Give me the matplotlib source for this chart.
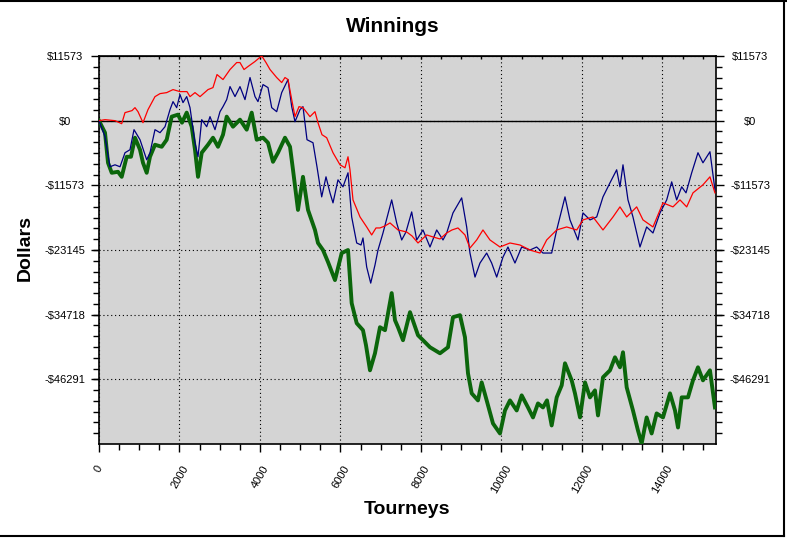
import matplotlib
matplotlib.use("Agg")
import matplotlib.pyplot as plt
from matplotlib.lines import Line2D
from matplotlib.ticker import MultipleLocator, FixedLocator, NullFormatter

# values (tourneys, dollars)
red_t = [0, 149, 398, 564, 646, 820, 894, 969, 1093, 1217,
         1391, 1516, 1682, 1839, 2012, 2186, 2261, 2385, 2510, 2708,
         2832, 2932, 3081, 3255, 3421, 3503, 3603, 3702, 3876, 4042,
         4149, 4249, 4415, 4539, 4621, 4696, 4788, 4870, 4969, 5068,
         5242, 5366, 5441, 5540, 5657, 5814, 5988, 6112, 6187, 6236,
         6311, 6485, 6651, 6775, 6882, 6981, 7106, 7230, 7429, 7645,
         7777, 7926, 8142, 8298, 8472, 8639, 8770, 8919, 9093, 9217,
         9384, 9540, 9714, 9963, 10211, 10460, 10708, 10957, 11123, 11372,
         11620, 11869, 12025, 12273, 12522, 12771, 12944, 13111, 13359, 13516,
         13764, 14013, 14261, 14435, 14602, 14758, 15006, 15180, 15304]
red_d = [0, 180, 0, -540, 1440, 1800, 2330, 1610, -360, 1970,
         4300, 4840, 5020, 5560, 5200, 5200, 4300, 5020, 4300, 5560,
         5920, 8250, 7360, 9150, 10400, 10400, 9150, 9690, 10590, 11600,
         10400, 9150, 7720, 6820, 7720, 7360, 3770, 720, 2510, 2330,
         720, 1610, -360, -2510, -3050, -5740, -7900, -8430, -6460, -8790,
         -14180, -17230, -19020, -20450, -19200, -19200, -18840, -18300, -19560, -19920,
         -20630, -21890, -20450, -20810, -21170, -20100, -19560, -19200, -20450, -22790,
         -21350, -19560, -21350, -22610, -21890, -22250, -23150, -23690, -21350, -19560,
         -19020, -19560, -17760, -17230, -19560, -17230, -15430, -17230, -15430, -17760,
         -19020, -14710, -15430, -14180, -15430, -12920, -11480, -10050, -12920]

blue_t = [0, 149, 273, 398, 522, 646, 770, 870, 1019, 1185,
          1267, 1391, 1516, 1640, 1764, 1839, 1930, 2012, 2087, 2179,
          2261, 2385, 2460, 2552, 2676, 2758, 2882, 3006, 3081, 3173,
          3255, 3379, 3503, 3627, 3752, 3876, 3950, 4075, 4199, 4291,
          4415, 4539, 4696, 4788, 4870, 4994, 5068, 5168, 5317, 5416,
          5533, 5640, 5739, 5814, 5938, 6062, 6187, 6278, 6403, 6510,
          6559, 6651, 6751, 6857, 6932, 7056, 7272, 7396, 7521, 7627,
          7769, 7893, 8050, 8224, 8390, 8547, 8639, 8795, 9011, 9135,
          9217, 9342, 9466, 9632, 9756, 9881, 10038, 10161, 10335, 10502,
          10708, 10874, 11031, 11247, 11372, 11578, 11702, 11901, 12025, 12199,
          12366, 12522, 12696, 12862, 12944, 13019, 13143, 13267, 13441, 13607,
          13764, 13938, 14105, 14229, 14353, 14478, 14585, 14726, 14882, 15006,
          15180, 15304]
blue_d = [0, -2870, -8250, -7900, -8250, -5740, -5200, -1610, -3410, -7000,
          -5740, -1610, -2150, -1080, 1970, 3410, 2330, 4670, 3230, 4310,
          2330, -3950, -6460, 180, -1080, 720, -1610, 1610, 2510, 3770,
          6100, 4310, 6100, 3770, 7720, 4310, 3410, 6460, 5920, 2330,
          1610, 5020, 7360, 2510, -180, 1970, 2510, -3410, -3950, -8250,
          -13640, -10050, -12920, -14710, -10590, -11840, -9330, -17230, -21890, -22250,
          -20990, -26200, -29070, -25840, -23150, -20100, -14180, -18300, -21350, -19920,
          -16330, -21350, -19560, -22610, -19560, -21350, -20100, -16510, -13820, -19020,
          -23690, -27990, -25480, -23690, -25480, -27990, -24400, -22610, -25480, -22610,
          -23150, -22610, -23690, -23690, -19560, -13640, -17760, -21350, -16510, -17760,
          -17230, -13640, -11120, -8790, -11840, -7900, -14180, -17230, -22610, -19020,
          -20100, -16510, -14180, -10950, -14180, -11840, -12920, -9330, -5740, -7540,
          -5560, -12380]

green_t = [0, 149, 224, 316, 472, 564, 688, 795, 894, 1019,
           1093, 1185, 1267, 1391, 1558, 1682, 1806, 1963, 2062, 2179,
           2303, 2385, 2460, 2552, 2708, 2832, 2957, 3081, 3173, 3329,
           3503, 3670, 3794, 3918, 4075, 4199, 4323, 4447, 4621, 4746,
           4820, 4944, 5068, 5193, 5366, 5441, 5565, 5690, 5863, 6030,
           6187, 6278, 6403, 6559, 6634, 6733, 6857, 6981, 7106, 7272,
           7354, 7429, 7553, 7727, 7926, 8050, 8224, 8472, 8671, 8795,
           8969, 9093, 9168, 9260, 9416, 9508, 9632, 9789, 9963, 10087,
           10211, 10378, 10502, 10659, 10783, 10907, 11031, 11131, 11247, 11372,
           11496, 11578, 11744, 11826, 11951, 12075, 12199, 12323, 12398, 12522,
           12696, 12820, 12944, 13019, 13111, 13267, 13391, 13483, 13607, 13731,
           13855, 14013, 14187, 14311, 14386, 14478, 14634, 14758, 14882, 15006,
           15180, 15304]
green_d = [0, -2150, -7540, -9330, -9150, -10050, -6460, -6460, -3050, -5200,
           -7540, -9330, -6460, -4310, -4670, -3410, 720, 1080, -360, 1440,
           -1080, -5200, -10050, -5740, -4310, -3050, -4670, -2510, 720, -1080,
           180, -1610, 1440, -3410, -3050, -3950, -7360, -5740, -3050, -4670,
           -8790, -15970, -10050, -15970, -19560, -21890, -23150, -25300, -28530, -23690,
           -23150, -32660, -36250, -37500, -40190, -44680, -41630, -36960, -37500, -30860,
           -35710, -36960, -39290, -34270, -38400, -39290, -40550, -41630, -40550, -35170,
           -34810, -38760, -45220, -48800, -50060, -46830, -50060, -54190, -55980, -51860,
           -50060, -51860, -49160, -51320, -53110, -50600, -51320, -50060, -54550, -49520,
           -47370, -43420, -46470, -48800, -53110, -46830, -49520, -48270, -52750, -45930,
           -44680, -42350, -44140, -41450, -47730, -51860, -55440, -57780, -53110, -55980,
           -52390, -53110, -48800, -51860, -54910, -49520, -49520, -46470, -44140, -46470,
           -44680, -51320]

y_ticks = [11573, 0, -11573, -23145, -34718, -46291]
y_labels = ["$11573", "$0", "-$11573", "-$23145", "-$34718", "-$46291"]
x_ticks = [0, 2000, 4000, 6000, 8000, 10000, 12000, 14000]

plt.rcParams['font.family'] = ['Liberation Sans', 'DejaVu Sans']

fig = plt.figure(figsize=(7.87, 5.4), dpi=100)
fig.patch.set_facecolor('white')
ax = fig.add_axes([99 / 787, 1 - 444 / 540, 617 / 787, 388 / 540])
ax.set_facecolor('#d4d4d4')

ax.set_xlim(0, 15330)
ax.set_ylim(-57864, 11573)

# grid + zero line
ax.grid(True, which='major', color='black', linestyle=(0, (1, 2.5)), linewidth=0.8)
ax.axhline(0, color='black', linewidth=1.0, zorder=2)

ax.plot(green_t, green_d, color='#0b660b', linewidth=2.8, zorder=3)
ax.plot(blue_t, blue_d, color='#000080', linewidth=0.9, zorder=4)
ax.plot(red_t, red_d, color='#ff0000', linewidth=0.9, zorder=5)

ax.yaxis.set_major_locator(FixedLocator(y_ticks))
ax.set_yticklabels(y_labels)
ax.yaxis.set_minor_locator(MultipleLocator(11573 / 6))
ax.set_xticks(x_ticks)
ax.set_xticklabels([str(v) for v in x_ticks])
ax.xaxis.set_minor_locator(MultipleLocator(500))

ax.tick_params(axis='y', which='both', direction='out', left=True, right=True,
               labelleft=True, labelright=True, labelsize=8, width=1)
ax.tick_params(axis='y', which='major', length=6, pad=18.5)
ax.tick_params(axis='y', which='minor', length=4)
ax.tick_params(axis='x', which='both', direction='out', width=1, labelsize=8)
ax.tick_params(axis='x', which='major', length=6, pad=8, labelrotation=60)
ax.tick_params(axis='x', which='minor', length=4)
for tick in ax.yaxis.get_major_ticks():
    tick.label1.set_horizontalalignment('center')
    tick.label2.set_horizontalalignment('center')

# small inward ticks along the top edge
top = ax.secondary_xaxis('top')
top.xaxis.set_major_locator(MultipleLocator(500))
top.xaxis.set_major_formatter(NullFormatter())
top.tick_params(axis='x', direction='in', length=2.5, width=1)

for sp in ax.spines.values():
    sp.set_linewidth(1.2)

fig.text(393 / 787, 1 - 27 / 540, "Winnings", ha='center', va='center',
         fontsize=15, fontweight='bold')
fig.text(25 / 787, 1 - 248 / 540, "Dollars", ha='center', va='center',
         rotation=90, fontsize=14, fontweight='bold')
fig.text(407 / 787, 1 - 510 / 540, "Tourneys", ha='center', va='center',
         fontsize=14, fontweight='bold')

# window frame around the picture
frame = [((0, 1), (1 - 0.5 / 540, 1 - 0.5 / 540)),
         ((784 / 787, 784 / 787), (1, 4 / 540)),
         ((0, 784 / 787), (4 / 540, 4 / 540))]
for xs, ys in frame:
    fig.add_artist(Line2D(xs, ys, transform=fig.transFigure, color='black', linewidth=1.5))

fig.savefig("out.png", dpi=100)
